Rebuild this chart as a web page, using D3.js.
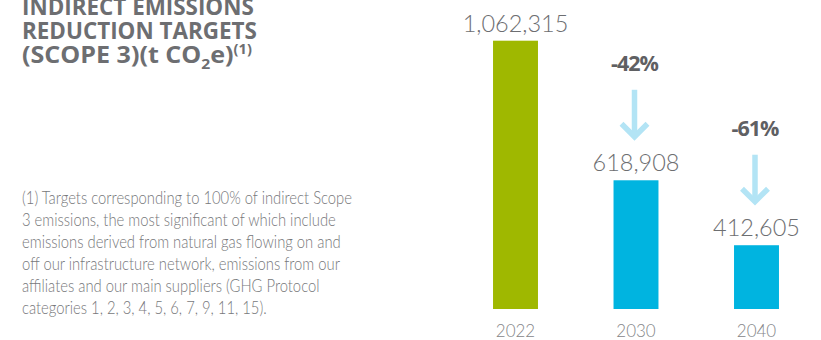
<!DOCTYPE html>
<meta charset="utf-8"/>
<html>
  <head>
    <script src="https://d3js.org/d3.v7.min.js"></script>
    <style>
      body { margin: 0; background: #fff; }
    </style>
  </head>
  <body>
<script type="text/javascript">
var years = ['2022', '2030', '2040'];
var values = [1062315, 618908, 412605];
var reductions = ['', '-42%', '-61%'];
var titleLines = ['INDIRECT EMISSIONS', 'REDUCTION TARGETS'];
var noteLines = [
  '(1) Targets corresponding to 100% of indirect Scope',
  '3 emissions, the most significant of which include',
  'emissions derived from natural gas flowing on and',
  'off our infrastructure network, emissions from our',
  'affiliates and our main suppliers (GHG Protocol',
  'categories 1, 2, 3, 4, 5, 6, 7, 9, 11, 15).'
];

var width = 821, height = 340;
var grey = '#6d6e71';
var svg = d3.select('body').append('svg')
    .attr('width', width)
    .attr('height', height);

// title, squeezed sideways to look like a condensed face
var title = svg.append('g').attr('transform', 'translate(22,0)');
var tg = title.append('g');
titleLines.forEach(function(t, i) {
  tg.append('text')
      .attr('x', 0).attr('y', 15 + i * 24.5)
      .attr('font-family', 'Open Sans').attr('font-weight', 700)
      .attr('font-size', 24).attr('fill', grey)
      .text(t);
});
var tw = tg.selectAll('text').filter(function(d, i) { return i == 1; }).node().getComputedTextLength();
tg.attr('transform', 'scale(' + (235 / tw) + ',1)');

var tg3 = title.append('g');
var t3 = tg3.append('text')
    .attr('x', 0).attr('y', 63)
    .attr('font-family', 'Open Sans').attr('font-weight', 700)
    .attr('font-size', 24).attr('fill', grey);
t3.append('tspan').text('(SCOPE 3)(t CO');
t3.append('tspan').attr('font-size', 15).attr('dy', 6).text('2');
t3.append('tspan').attr('dy', -6).text('e)');
t3.append('tspan').attr('font-size', 14).attr('dy', -9).text('(1)');
var tw3 = t3.node().getComputedTextLength();
tg3.attr('transform', 'scale(' + (230 / tw3) + ',1)');

// footnote
var note = svg.append('g').attr('transform', 'translate(22,0)');
var ng = note.append('g');
noteLines.forEach(function(t, i) {
  ng.append('text')
      .attr('x', 0).attr('y', 204 + i * 22)
      .attr('font-family', 'Lato').attr('font-weight', 300)
      .attr('font-size', 18.5).attr('fill', '#77787b')
      .text(t);
});
var nw = ng.select('text').node().getComputedTextLength();
ng.attr('transform', 'scale(' + (330 / nw) + ',1)');

// bars
var x = d3.scaleBand()
    .domain(years)
    .range([455.25, 816.75])
    .paddingInner(0.627)
    .paddingOuter(0.3135);
var y = d3.scaleLinear()
    .domain([210000, 1062315])
    .range([309, 40.7]);

svg.append('g')
    .selectAll('rect')
    .data(values)
    .enter()
    .append('rect')
    .attr('x', function(d, i) { return x(years[i]); })
    .attr('y', function(d) { return y(d); })
    .attr('width', x.bandwidth())
    .attr('height', function(d) { return y.range()[0] - y(d); })
    .attr('fill', function(d, i) { return i == 0 ? '#9fb800' : '#00b4e0'; });

svg.append('g')
    .selectAll('text')
    .data(values)
    .enter()
    .append('text')
    .attr('x', function(d, i) { return x(years[i]) + x.bandwidth() / 2; })
    .attr('y', function(d) { return y(d) - 9; })
    .attr('text-anchor', 'middle')
    .attr('font-family', 'Lato').attr('font-weight', 300)
    .attr('font-size', 23.5).attr('fill', grey)
    .text(function(d) { return d3.format(',')(d); });

// year axis
var axis = svg.append('g')
    .attr('transform', 'translate(0,' + y.range()[0] + ')')
    .call(d3.axisBottom(x).tickSize(0).tickPadding(16));
axis.select('.domain').remove();
axis.selectAll('text')
    .attr('font-family', 'Lato').attr('font-weight', 300)
    .attr('font-size', 17).attr('fill', '#858689');

// reduction arrows
var arrows = svg.append('g')
    .selectAll('g')
    .data(values.slice(1))
    .enter()
    .append('g')
    .attr('transform', function(d, i) {
      return 'translate(' + (x(years[i + 1]) + x.bandwidth() / 2 - 1.5) + ',' + (y(d) - 43.5) + ')';
    });
arrows.append('line')
    .attr('x1', 0).attr('x2', 0).attr('y1', -47).attr('y2', -1)
    .attr('stroke', '#b3e4f5').attr('stroke-width', 5.5);
arrows.append('path')
    .attr('d', 'M-13,-13L0,0L13,-13')
    .attr('fill', 'none')
    .attr('stroke', '#b3e4f5').attr('stroke-width', 5.5);
arrows.append('text')
    .attr('x', 0).attr('y', -66)
    .attr('text-anchor', 'middle')
    .attr('font-family', 'Open Sans').attr('font-weight', 700)
    .attr('font-size', 21.5).attr('fill', '#5f6063')
    .attr('letter-spacing', -1)
    .text(function(d, i) { return reductions[i + 1]; });
</script>
  </body>
</html>
